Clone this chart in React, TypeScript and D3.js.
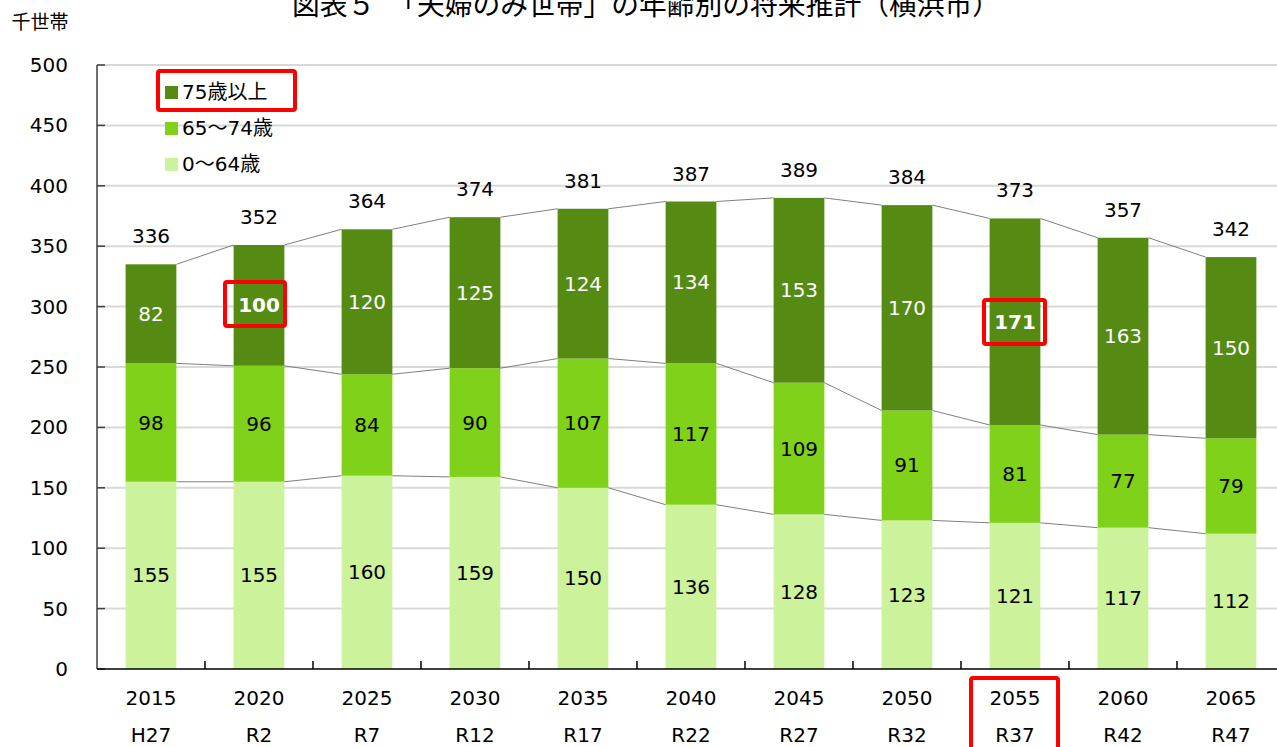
import React from "react";
import * as d3 from "d3";

const years = ["2015", "2020", "2025", "2030", "2035", "2040", "2045", "2050", "2055", "2060", "2065"];
const eras = ["H27", "R2", "R7", "R12", "R17", "R22", "R27", "R32", "R37", "R42", "R47"];
const age0to64 = [155, 155, 160, 159, 150, 136, 128, 123, 121, 117, 112];
const age65to74 = [98, 96, 84, 90, 107, 117, 109, 91, 81, 77, 79];
const age75plus = [82, 100, 120, 125, 124, 134, 153, 170, 171, 163, 150];
const totals = [336, 352, 364, 374, 381, 387, 389, 384, 373, 357, 342];
const yTicks = [0, 50, 100, 150, 200, 250, 300, 350, 400, 450, 500];

const seriesNames = ["0～64歳", "65～74歳", "75歳以上"];
const colors = ["#ccf29b", "#80d11a", "#558b13"];
const labelColors = ["#000", "#000", "#fff"];
const boldYears = ["2020", "2055"]; // bold white labels in top segment

const W = 1277, H = 747;
const FONT = "'DejaVu Sans', Verdana, 'Noto Sans CJK JP', sans-serif";
const FS = 20;

export default function App() {
  const x = d3.scaleBand().domain(years).range([97, 1285]).paddingInner(0.53).paddingOuter(0.265);
  const y = d3.scaleLinear().domain([0, 500]).range([669, 65]);

  const table = years.map((yr, i) => ({ year: yr, s0: age0to64[i], s1: age65to74[i], s2: age75plus[i] }));
  const stack = d3.stack<any>().keys(["s0", "s1", "s2"]);
  const layers = stack(table);
  const bw = x.bandwidth();
  const step = x.step();

  return (
    <svg width={W} height={H} style={{ position: "absolute", left: 0, top: 0, background: "#fff" }} fontFamily={FONT}>
      <text x={292} y={15} fontSize={28} fontFamily="'Noto Sans CJK JP', sans-serif"
        textLength={708} lengthAdjust="spacingAndGlyphs">
        図表５　「夫婦のみ世帯」の年齢別の将来推計（横浜市）
      </text>
      <text x={40} y={29} textAnchor="middle" fontSize={19} fontFamily="'Noto Sans CJK JP', sans-serif">千世帯</text>

      {yTicks.filter(t => t > 0).map(t => (
        <line key={"g" + t} x1={97} x2={W} y1={y(t)} y2={y(t)} stroke="#d9d9d9" strokeWidth={2} />
      ))}
      {yTicks.map(t => (
        <g key={"yt" + t}>
          <line x1={97} x2={105} y1={y(t)} y2={y(t)} stroke="#404040" strokeWidth={1.5} />
          <text x={68} y={y(t)} dy="0.35em" textAnchor="end" fontSize={FS} fill="#000">{t}</text>
        </g>
      ))}

      {layers.map((layer, li) => (
        <g key={"l" + li}>
          {layer.map((d, i) => (
            <rect key={i} x={x(years[i])} y={y(d[1])} width={bw} height={y(d[0]) - y(d[1])} fill={colors[li]} />
          ))}
          {layer.slice(0, -1).map((d, i) => (
            <line key={"c" + i} x1={(x(years[i]) as number) + bw} x2={x(years[i + 1]) as number}
              y1={y(d[1])} y2={y(layer[i + 1][1])} stroke="#7f7f7f" strokeWidth={1} />
          ))}
          {layer.map((d, i) => {
            const bold = li === 2 && boldYears.includes(years[i]);
            return (
              <text key={"t" + i} x={(x(years[i]) as number) + bw / 2} y={y((d[0] + d[1]) / 2)} dy="0.35em"
                textAnchor="middle" fontSize={FS} fill={labelColors[li]} fontWeight={bold ? "bold" : "normal"}>
                {d[1] - d[0]}
              </text>
            );
          })}
        </g>
      ))}

      {years.map((yr, i) => (
        <text key={"tot" + i} x={(x(yr) as number) + bw / 2} y={y(layers[2][i][1]) - 28} dy="0.35em"
          textAnchor="middle" fontSize={FS} fill="#000">{totals[i]}</text>
      ))}

      <line x1={97} x2={97} y1={y(500)} y2={y(0)} stroke="#404040" strokeWidth={1.5} />
      <line x1={97} x2={W} y1={y(0)} y2={y(0)} stroke="#000" strokeWidth={1.5} />
      {years.slice(1).map((yr, i) => (
        <line key={"xt" + i} x1={97 + step * (i + 1)} x2={97 + step * (i + 1)} y1={y(0)} y2={y(0) - 8} stroke="#000" strokeWidth={1.5} />
      ))}
      {years.map((yr, i) => (
        <g key={"xl" + i}>
          <text x={(x(yr) as number) + bw / 2} y={698} dy="0.35em" textAnchor="middle" fontSize={FS}>{yr}</text>
          <text x={(x(yr) as number) + bw / 2} y={735} dy="0.35em" textAnchor="middle" fontSize={FS}>{eras[i]}</text>
        </g>
      ))}

      {[2, 1, 0].map((li, k) => (
        <g key={"lg" + li}>
          <rect x={165} y={86 + k * 36} width={13} height={13} fill={colors[li]} />
          <text x={182} y={92 + k * 36} dy="0.35em" fontSize={FS} fill="#000">{seriesNames[li]}</text>
        </g>
      ))}

      <g fill="none" stroke="#ff0000" strokeWidth={4}>
        <rect x={158} y={71} width={137} height={39} rx={2} />
        <rect x={225} y={282} width={60} height={44} rx={2} />
        <rect x={984} y={300} width={61} height={44} rx={2} />
        <rect x={971} y={678} width={87} height={80} rx={2} />
      </g>
    </svg>
  );
}
